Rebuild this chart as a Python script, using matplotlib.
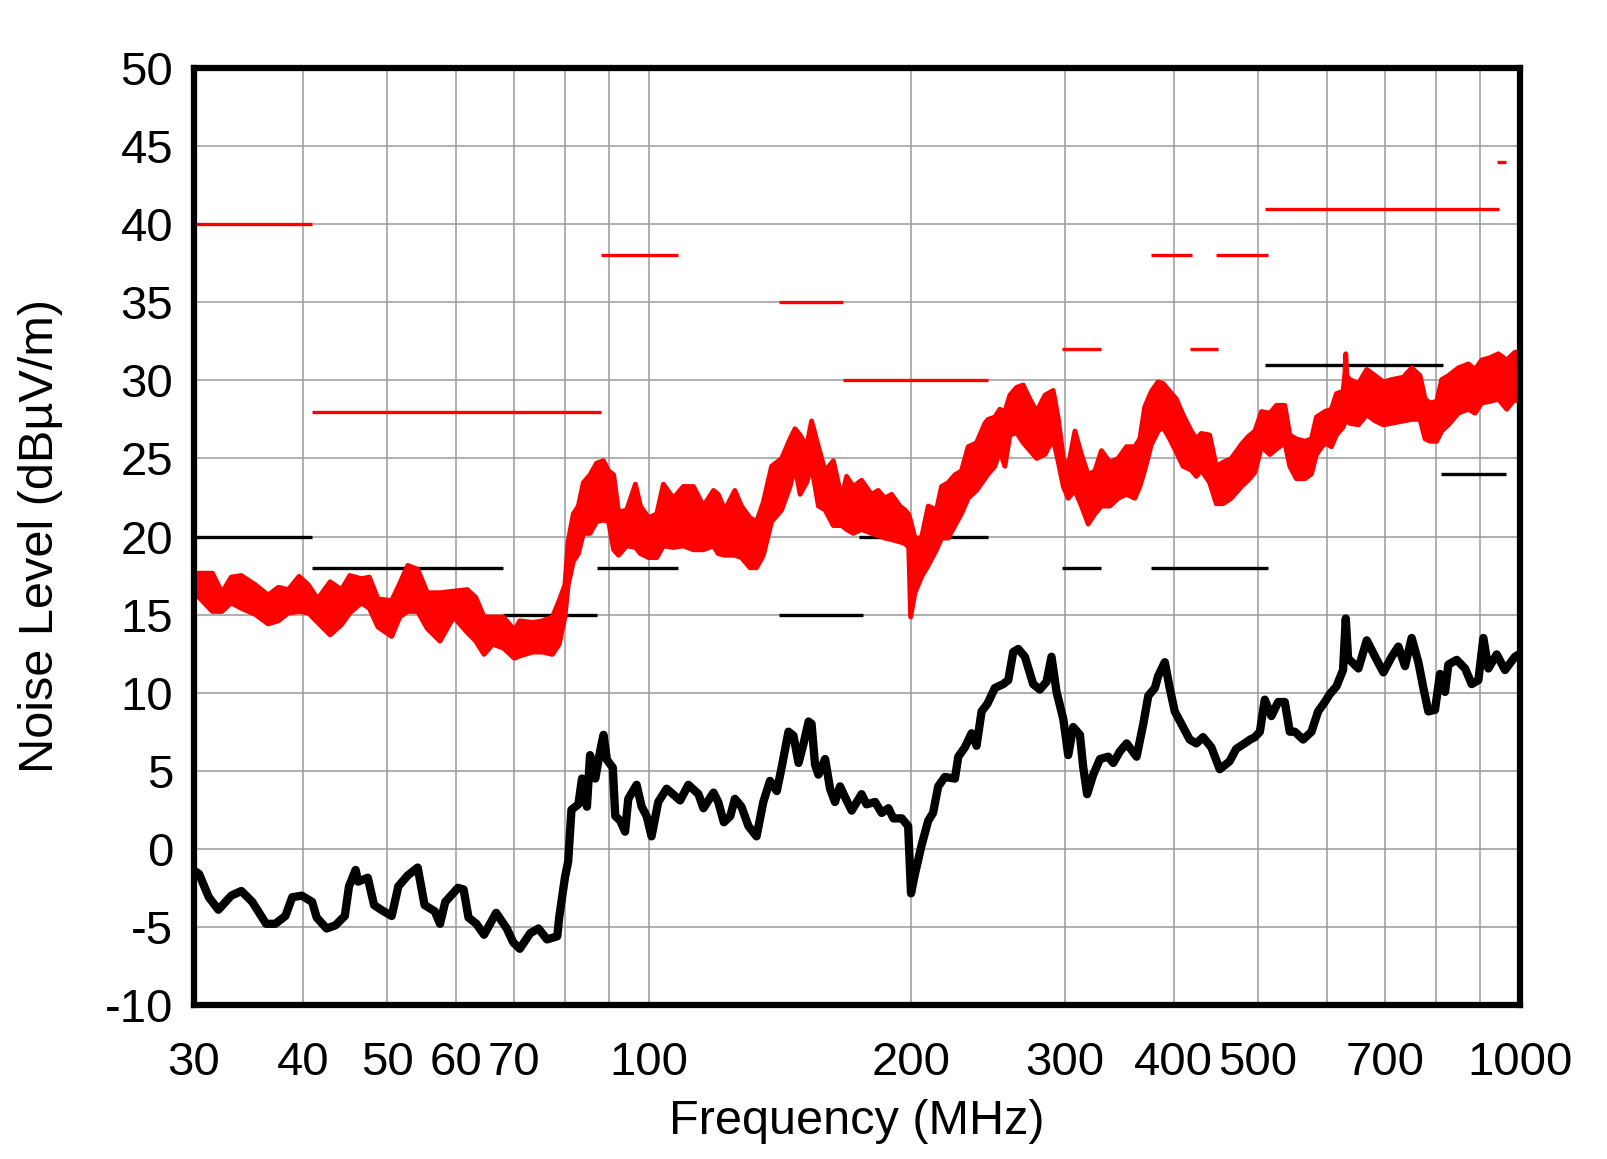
import matplotlib
matplotlib.use("Agg")
import matplotlib.pyplot as plt
from matplotlib.ticker import FixedLocator, NullFormatter

plt.rcParams['font.family'] = ['Liberation Sans', 'DejaVu Sans']
plt.rcParams['axes.unicode_minus'] = False

# ---------------- data ----------------
red_freq = [30.0, 30.4, 31.5, 32.3, 33.1, 34.0, 35.3, 36.5, 37.5, 38.5, 39.6, 40.6, 41.6, 43.0, 44.3,
            45.3, 46.7, 47.7, 48.8, 50.6, 51.7, 52.8, 54.2, 55.6, 57.5, 59.6, 61.8, 63.2, 64.6, 66.1,
            68.0, 70.0, 71.0, 73.5, 75.4, 77.4, 78.8, 80.0, 80.7, 81.8, 82.9, 84.0, 85.5, 87.0, 88.6,
            89.8, 91.0, 92.2, 94.2, 96.4, 97.7, 99.8, 102.0, 103.8, 106.6, 109.4, 112.4, 115.4, 118.5,
            120.0, 122.1, 125.4, 127.6, 130.5, 132.8, 135.2, 138.2, 141.9, 145.1, 147.0, 149.0, 151.6,
            153.6, 156.4, 159.2, 162.7, 166.3, 168.5, 171.5, 175.3, 180.0, 183.2, 186.4, 189.8, 194.0,
            196.6, 198.6, 199.6, 201.9, 205.4, 209.1, 213.7, 216.6, 220.4, 224.4, 228.3, 232.4, 237.6,
            242.9, 245.0, 249.4, 252.7, 256.1, 259.5, 264.1, 268.8, 273.6, 278.5, 284.7, 291.0, 295.0,
            298.9, 302.8, 308.2, 313.6, 319.2, 324.9, 330.6, 338.0, 345.5, 353.2, 361.1, 365.9, 370.7,
            377.3, 384.0, 389.1, 396.0, 403.0, 410.2, 419.3, 424.9, 430.5, 440.1, 447.9, 456.0, 466.1,
            478.6, 487.3, 496.0, 504.8, 516.1, 525.2, 536.9, 544.0, 553.6, 566.1, 576.1, 583.7, 596.8,
            607.3, 615.4, 626.3, 629.5, 630.8, 632.5, 637.5, 652.3, 666.8, 681.7, 696.8, 712.3, 734.6,
            750.9, 767.7, 778.0, 788.3, 802.2, 813.0, 827.4, 849.6, 872.4, 887.9, 903.7, 923.7, 944.3,
            965.4, 986.7, 1000.0]
red_upper = [17.6, 17.65, 17.65, 16.4, 17.4, 17.5, 16.9, 16.25, 16.75, 16.6, 17.45, 16.9, 16.0, 17.1, 16.6,
             17.5, 17.3, 17.4, 16.0, 15.9, 17.0, 18.15, 17.9, 16.4, 16.4, 16.5, 16.6, 16.1, 14.85, 14.85,
             14.85, 14.0, 14.6, 14.5, 14.6, 14.85, 15.9, 16.9, 19.7, 21.45, 21.95, 23.45, 23.95, 24.7, 24.85,
             24.2, 23.95, 21.55, 21.7, 23.35, 21.95, 21.2, 21.45, 23.35, 22.45, 23.2, 23.2, 21.95, 22.95,
             22.7, 21.7, 22.95, 21.95, 21.2, 20.95, 22.2, 24.5, 25.0, 26.25, 26.9, 26.5, 25.75,
             27.4, 25.75, 24.2, 24.85, 22.45, 23.85, 23.2, 23.6, 22.7, 22.95, 22.45, 22.7, 21.95,
             21.7, 21.4, 21.0, 19.9, 19.9, 21.95, 21.7, 23.2, 23.45, 23.95, 24.2, 25.75, 26.0,
             27.25, 27.5, 27.65, 28.15, 28.0, 29.05, 29.55, 29.7, 28.8, 28.0, 29.05, 29.35, 27.5,
             25.0, 24.5, 26.75, 25.25, 23.95, 24.2, 25.5, 24.75, 25.0, 25.75, 25.75, 26.25, 28.3,
             29.3, 29.9, 29.8, 29.3, 28.8, 27.8, 26.75, 26.25, 26.6, 26.5, 24.5, 24.75, 25.0,
             25.9, 26.4, 26.75, 28.0, 27.9, 28.4, 28.4, 26.5, 26.25, 26.1, 26.25, 27.65, 28.0,
             28.15, 29.15, 29.3, 30.5, 31.7, 30.3, 30.05, 29.8, 30.7, 30.3, 29.9, 30.05, 30.2,
             30.8, 30.3, 28.8, 28.55, 28.65, 30.05, 30.3, 30.8, 31.05, 30.7, 31.3, 31.45, 31.7,
             31.3, 31.8, 31.8]
red_lower = [16.3, 16.1, 15.2, 15.2, 15.75, 15.4, 15.0, 14.4, 14.6, 15.1, 15.2, 15.1, 14.5, 13.7, 14.35,
             15.1, 15.75, 15.4, 14.2, 13.6, 14.85, 15.2, 15.2, 14.1, 13.3, 14.85, 13.85, 13.3, 12.45, 13.1,
             12.85, 12.2, 12.35, 12.6, 12.6, 12.45, 13.1, 14.85, 16.9, 18.4, 18.9, 20.2, 20.2, 20.95, 21.05,
             20.95, 19.15, 18.8, 19.4, 19.3, 18.9, 18.65, 18.65, 19.4, 19.3, 19.4, 19.15, 19.15, 19.4,
             18.9, 18.8, 18.8, 18.65, 18.0, 18.0, 18.8, 20.95, 21.7, 23.2, 24.5, 22.7, 23.45,
             24.5, 21.95, 21.7, 20.7, 20.7, 20.45, 20.2, 20.45, 20.2, 20.05, 19.9, 19.8, 19.65,
             19.55, 19.3, 14.85, 16.4, 17.4, 18.15, 19.15, 19.9, 19.9, 20.7, 21.45, 22.45, 22.95,
             23.7, 24.0, 24.5, 25.5, 24.5, 26.5, 26.65, 26.0, 25.5, 25.0, 25.25, 26.25, 24.75,
             23.2, 22.45, 22.95, 21.95, 20.8, 21.45, 21.95, 21.95, 22.45, 22.7, 22.45, 23.2, 24.25,
             25.9, 26.75, 27.0, 26.25, 25.4, 24.5, 24.25, 23.85, 24.25, 23.45, 22.1, 22.1, 22.45,
             23.2, 23.6, 24.1, 25.75, 25.25, 25.6, 26.0, 24.5, 23.7, 23.7, 24.0, 25.25, 26.0,
             25.75, 26.5, 27.0, 27.3, 27.5, 27.4, 27.25, 27.15, 27.8, 27.4, 27.15, 27.25, 27.4,
             27.5, 27.5, 26.25, 26.1, 26.1, 26.75, 27.15, 27.9, 28.15, 27.9, 28.55, 28.65, 28.8,
             28.15, 28.8, 28.6]

black_freq = [30.0, 30.4, 31.2, 32.0, 33.1, 34.0, 35.0, 36.3, 37.2, 38.2, 38.9, 39.9, 41.0, 41.5, 42.6,
              43.6, 44.7, 45.2, 46.0, 46.3, 47.5, 48.3, 49.2, 50.6, 51.5, 52.8, 54.2, 55.2, 56.7, 57.5,
              58.3, 60.3, 61.2, 62.0, 63.3, 64.6, 66.7, 68.6, 69.8, 71.0, 73.0, 74.6, 76.3, 78.4, 78.8,
              80.0, 80.7, 81.4, 82.9, 83.7, 84.8, 85.5, 86.7, 87.8, 88.6, 89.4, 90.8, 91.4, 92.6, 93.8,
              94.6, 96.7, 98.0, 99.3, 100.6, 102.4, 104.7, 108.5, 110.9, 113.9, 115.4, 118.5, 120.0,
              121.8, 123.9, 125.4, 127.6, 130.0, 132.8, 135.2, 137.6, 140.1, 141.9, 144.5, 146.4, 148.4,
              150.4, 152.4, 153.6, 155.0, 156.4, 159.2, 161.3, 163.4, 165.6, 168.5, 170.8, 175.3, 177.6,
              181.7, 184.9, 188.2, 190.7, 195.0, 198.3, 199.8, 201.9, 205.4, 209.1, 211.8, 214.7, 218.5,
              224.4, 226.4, 230.4, 234.5, 237.6, 240.8, 244.6, 249.4, 255.0, 258.4, 261.8, 265.3, 270.0,
              276.0, 280.9, 285.9, 289.7, 293.6, 298.9, 302.8, 306.8, 312.3, 315.0, 318.3, 323.5, 329.3,
              336.6, 341.1, 347.2, 353.4, 362.8, 369.3, 374.2, 380.8, 384.0, 390.9, 396.0, 401.3, 410.2,
              417.5, 424.9, 432.5, 442.1, 452.0, 463.9, 472.1, 482.7, 490.0, 496.0, 502.6, 509.2, 518.2,
              527.5, 536.9, 544.0, 551.2, 563.5, 576.1, 586.3, 596.8, 604.6, 615.4, 626.3, 630.8, 634.7,
              652.3, 666.8, 681.7, 696.8, 712.3, 724.9, 737.8, 750.9, 764.3, 774.5, 784.8, 798.7, 809.3,
              820.1, 827.4, 845.9, 864.8, 880.1, 895.8, 907.7, 919.7, 940.2, 961.2, 986.7, 1000.0]
black_level = [-1.4, -1.6, -3.1, -3.9, -3.0, -2.7, -3.4, -4.8, -4.8, -4.3, -3.1, -3.0, -3.4, -4.4, -5.1,
               -4.9, -4.3, -2.4, -1.35, -2.1, -1.85, -3.6, -3.9, -4.3, -2.4, -1.7, -1.2, -3.6, -4.0, -4.8,
               -3.4, -2.5, -2.6, -4.4, -4.8, -5.5, -4.1, -5.1, -6.0, -6.4, -5.4, -5.1, -5.8, -5.6, -4.4,
               -1.85, -0.8, 2.5, 2.85, 4.5, 2.7, 6.0, 4.5, 6.25, 7.3, 5.7, 5.2, 2.1, 1.8, 1.1,
               3.2, 4.1, 2.7, 2.1, 0.8, 3.0, 3.85, 3.1, 4.1, 3.5, 2.6, 3.6, 3.0,
               1.7, 2.1, 3.2, 2.7, 1.45, 0.8, 3.0, 4.35, 3.7, 5.2, 7.5, 7.25, 5.5,
               6.75, 8.15, 8.0, 5.4, 4.75, 5.75, 3.85, 3.0, 4.0, 3.1, 2.45, 3.5, 2.85,
               3.0, 2.3, 2.6, 1.95, 1.95, 1.45, -2.85, -1.6, 0.2, 1.8, 2.3, 4.0, 4.6,
               4.5, 5.9, 6.5, 7.4, 6.6, 8.8, 9.3, 10.3, 10.55, 10.8, 12.6, 12.8, 12.3,
               10.55, 10.2, 10.7, 12.3, 10.05, 8.3, 6.0, 7.8, 7.3, 5.25, 3.5, 4.75, 5.75,
               5.9, 5.5, 6.25, 6.75, 5.9, 8.0, 9.8, 10.3, 11.05, 11.95, 10.3, 8.8, 7.8,
               7.0, 6.75, 7.15, 6.5, 5.1, 5.6, 6.4, 6.75, 7.0, 7.15, 7.5, 9.55, 8.5,
               9.4, 9.4, 7.5, 7.5, 7.0, 7.5, 8.8, 9.4, 9.9, 10.4, 11.45, 14.75, 12.2,
               11.55, 13.35, 12.3, 11.3, 12.3, 12.95, 11.7, 13.5, 11.95, 10.3, 8.8, 8.9, 11.2,
               10.05, 11.8, 12.1, 11.55, 10.55, 10.8, 13.5, 11.55, 12.45, 11.45, 12.3, 12.5]

# limit segments (start MHz, stop MHz, level dBuV/m)
red_lim_start = [30, 41, 88, 141, 167, 298, 377, 418, 447, 510, 941]
red_lim_stop = [41, 88, 108, 167, 245, 330, 420, 450, 513, 945, 964]
red_lim_level = [40, 28, 38, 35, 30, 32, 38, 32, 38, 41, 44]

black_lim_start = [30, 41, 68, 87, 141, 174, 298, 377, 510, 812]
black_lim_stop = [41, 68, 87, 108, 176, 245, 330, 513, 815, 964]
black_lim_level = [20, 18, 15, 18, 15, 20, 18, 18, 31, 24]

x_tick_values = [30, 40, 50, 60, 70, 100, 200, 300, 400, 500, 700, 1000]
x_tick_labels = ['30', '40', '50', '60', '70', '100', '200', '300', '400', '500', '700', '1000']
x_minor_values = [80, 90, 600, 800, 900]
y_tick_values = list(range(-10, 51, 5))

# ---------------- figure ----------------
W, H = 1607, 1159
fig = plt.figure(figsize=(W / 100, H / 100), dpi=100)
ax = fig.add_axes([194 / W, 1 - 1005 / H, (1520 - 194) / W, (1005 - 68) / H])

ax.set_xscale('log')
ax.set_xlim(30, 1000)
ax.set_ylim(-10, 50)

ax.xaxis.set_major_locator(FixedLocator(x_tick_values))
ax.set_xticklabels(x_tick_labels)
ax.xaxis.set_minor_locator(FixedLocator(x_minor_values))
ax.xaxis.set_minor_formatter(NullFormatter())
ax.set_yticks(y_tick_values)
ax.set_yticklabels([str(v) for v in y_tick_values])

ax.grid(True, which='both', axis='x', color='#9a9a9a', lw=1.1, zorder=0)
ax.grid(True, which='major', axis='y', color='#9a9a9a', lw=1.1, zorder=0)
ax.set_axisbelow(True)

ax.tick_params(axis='both', which='both', length=0)
ax.tick_params(axis='x', labelsize=34, pad=26)
ax.tick_params(axis='y', labelsize=34, pad=15)

for s in ax.spines.values():
    s.set_linewidth(4.5)
    s.set_color('black')
    s.set_zorder(10)

# limit lines
ax.hlines(red_lim_level, red_lim_start, red_lim_stop, colors='#ff0000', lw=2.4, zorder=3)
ax.hlines(black_lim_level, black_lim_start, black_lim_stop, colors='black', lw=2.4, zorder=3)

# red trace (envelope)
ax.fill_between(red_freq, red_lower, red_upper, color='#ff0000', lw=0, zorder=4)
ax.plot(red_freq, red_upper, color='#ff0000', lw=3.5, zorder=4, solid_joinstyle='round')
ax.plot(red_freq, red_lower, color='#ff0000', lw=3.5, zorder=4, solid_joinstyle='round')

# black trace
ax.plot(black_freq, black_level, color='black', lw=6.0, zorder=5, solid_joinstyle='round',
        solid_capstyle='round')

fig.text(857 / W, 1 - 1122 / H, 'Frequency (MHz)', ha='center', va='center', fontsize=35)
fig.text(41 / W, 1 - 536 / H, 'Noise Level (dBµV/m)', ha='center', va='center', fontsize=35,
         rotation=90)

fig.savefig('out.png', dpi=100)
